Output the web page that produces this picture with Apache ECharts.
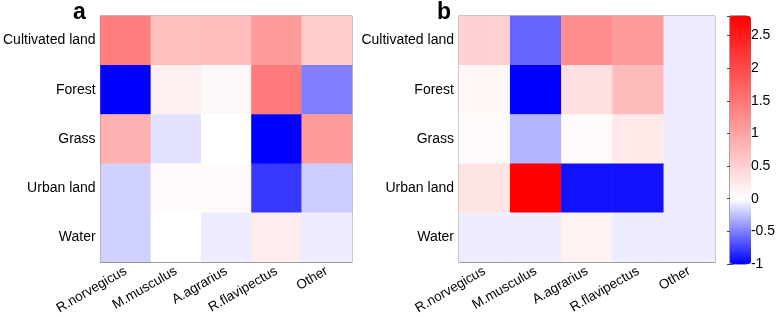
<!DOCTYPE html>
<html>
<head>
<meta charset="utf-8">
<script src="https://cdn.jsdelivr.net/npm/echarts@6/dist/echarts.min.js"></script>
<style>
  html, body { margin: 0; padding: 0; background: #fff; }
  #chart { width: 778px; height: 317px; }
</style>
</head>
<body>
<div id="chart"></div>
<script>
// categories
var species = ['R.norvegicus', 'M.musculus', 'A.agrarius', 'R.flavipectus', 'Other'];
var landTypes = ['Cultivated land', 'Forest', 'Grass', 'Urban land', 'Water'];

// panel a values (rows = land types, cols = species)
var valuesA = [
  [1.40, 0.70, 0.72, 1.10, 0.55],
  [-1.00, 0.18, 0.08, 1.45, -0.50],
  [0.85, -0.12, 0.00, -1.00, 1.10],
  [-0.18, 0.04, 0.05, -0.78, -0.20],
  [-0.18, 0.00, -0.07, 0.20, -0.07]
];

// panel b values
var valuesB = [
  [0.50, -0.60, 1.25, 1.10, -0.07],
  [0.10, -1.00, 0.35, 0.75, -0.07],
  [0.05, -0.30, 0.05, 0.25, -0.07],
  [0.30, 2.80, -0.93, -0.93, -0.07],
  [-0.07, -0.07, 0.15, -0.07, -0.07]
];

// colorbar
var cMin = -1, cMax = 2.8;
var cbTicks = [-1, -0.5, 0, 0.5, 1, 1.5, 2, 2.5];

function toCells(rows) {
  var out = [];
  rows.forEach(function (row, r) {
    row.forEach(function (v, c) { out.push([c, r, v]); });
  });
  return out;
}

// blue-white-red with white at 0, stops every 0.1
function colorAt(v) {
  var t;
  if (v < 0) {
    t = Math.round(255 * (1 + v));
    return 'rgb(' + t + ',' + t + ',255)';
  }
  t = Math.round(255 * (1 - v / cMax));
  return 'rgb(255,' + t + ',' + t + ')';
}
var stops = [];
for (var i = 0; i <= 38; i++) stops.push(colorAt(cMin + i * 0.1));

var font = 'Liberation Sans, Arial, sans-serif';
var axisGray = '#7f7f7f';

function xAx(gi) {
  return {
    type: 'category', gridIndex: gi, data: species,
    axisLine: { show: true, lineStyle: { color: axisGray } },
    axisTick: { show: true, inside: true, alignWithLabel: true, length: 3, lineStyle: { color: axisGray } },
    axisLabel: { rotate: 30, color: '#000', fontSize: 13.5, fontFamily: font, margin: 8 },
    splitLine: { show: false }
  };
}
function yAx(gi) {
  return {
    type: 'category', gridIndex: gi, data: landTypes, inverse: true,
    axisLine: { show: true, lineStyle: { color: axisGray } },
    axisTick: { show: true, inside: true, alignWithLabel: true, length: 3, lineStyle: { color: axisGray } },
    axisLabel: { color: '#000', fontSize: 14, fontFamily: font, margin: 5 },
    splitLine: { show: false }
  };
}
// mirror ticks on the right side of each box
function yAxRight(gi) {
  return {
    type: 'category', gridIndex: gi, data: landTypes, inverse: true, position: 'right',
    axisLine: { show: false },
    axisTick: { show: true, inside: true, alignWithLabel: true, length: 3, lineStyle: { color: axisGray } },
    axisLabel: { show: false },
    splitLine: { show: false }
  };
}

var chart = echarts.init(document.getElementById('chart'));
chart.setOption({
  backgroundColor: '#fff',
  animation: false,
  title: [
    { text: 'a', left: 68, top: -4, textStyle: { fontSize: 23, fontWeight: 'bold', fontFamily: font, color: '#000' } },
    { text: 'b', left: 432, top: -4, textStyle: { fontSize: 23, fontWeight: 'bold', fontFamily: font, color: '#000' } }
  ],
  grid: [
    { left: 96, top: 16, width: 256, height: 248, show: true, borderColor: axisGray, borderWidth: 1, backgroundColor: 'transparent' },
    { left: 459, top: 16, width: 256, height: 248, show: true, borderColor: axisGray, borderWidth: 1, backgroundColor: 'transparent' },
    { left: 730, top: 16, width: 21, height: 248, show: true, borderColor: '#444', borderWidth: 1, backgroundColor: 'transparent' }
  ],
  xAxis: [xAx(0), xAx(1),
    { type: 'value', gridIndex: 2, show: false, min: 0, max: 1 }],
  yAxis: [yAx(0), yAx(1),
    {
      type: 'value', gridIndex: 2, position: 'right', min: cMin, max: cMax, interval: 0.5,
      axisLine: { show: false },
      axisTick: { show: true, inside: true, length: 3, lineStyle: { color: '#444' } },
      axisLabel: {
        color: '#000', fontSize: 14, fontFamily: font, margin: 4,
        formatter: function (v) { return cbTicks.indexOf(v) >= 0 ? String(v) : ''; }
      },
      splitLine: { show: false }
    },
    {
      type: 'value', gridIndex: 2, position: 'left', min: cMin, max: cMax, interval: 0.5,
      axisLine: { show: false },
      axisTick: { show: true, inside: true, length: 3, lineStyle: { color: '#444' } },
      axisLabel: { show: false },
      splitLine: { show: false }
    },
    yAxRight(0), yAxRight(1)],
  visualMap: {
    type: 'continuous', min: cMin, max: cMax, seriesIndex: [0, 1],
    orient: 'vertical', left: 730, top: 16, itemWidth: 21, itemHeight: 248,
    calculable: false, text: ['', ''], showLabel: false, padding: 0,
    inRange: { color: stops }
  },
  series: [
    { type: 'heatmap', xAxisIndex: 0, yAxisIndex: 0, data: toCells(valuesA), itemStyle: { borderWidth: 0 }, z: 1 },
    { type: 'heatmap', xAxisIndex: 1, yAxisIndex: 1, data: toCells(valuesB), itemStyle: { borderWidth: 0 }, z: 1 }
  ]
});
</script>
</body>
</html>
